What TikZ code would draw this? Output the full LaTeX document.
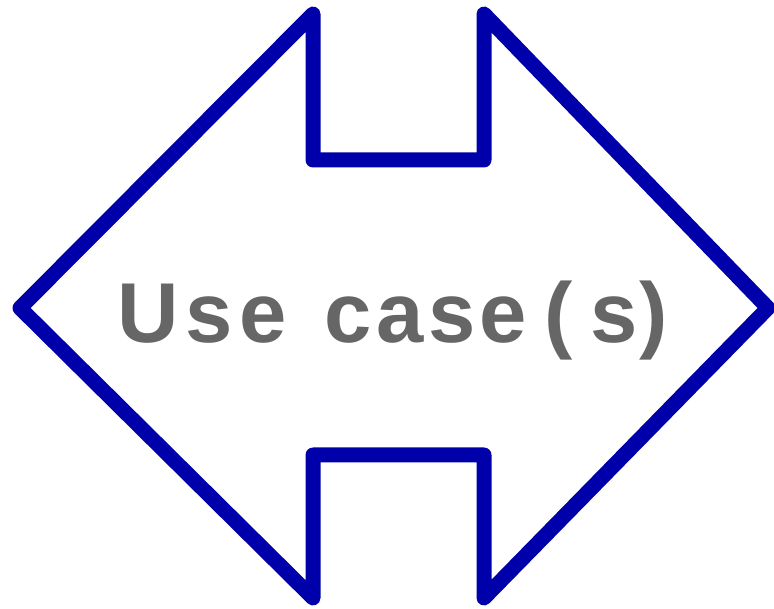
\documentclass[tikz,border=0pt]{standalone}
\usepackage{fontspec}
\setmainfont{Liberation Sans}
\definecolor{shapeblue}{RGB}{0,0,170}
\definecolor{textgray}{RGB}{102,102,102}
\begin{document}
\begin{tikzpicture}[x=1pt,y=-1pt,
  outline/.style={draw=shapeblue,line width=15pt,line join=round,line cap=round},
  labeltext/.style={text=textgray,font=\bfseries\fontsize{85}{100}\selectfont,inner sep=0pt,anchor=base west}]
\useasboundingbox (0,0) rectangle (774,609);
\coordinate (L) at (20,308);
\coordinate (TL) at (313,14);
\coordinate (TLb) at (313,160);
\coordinate (TRb) at (484,160);
\coordinate (TR) at (484,14);
\coordinate (R) at (768,308);
\coordinate (BR) at (484,598);
\coordinate (BRt) at (484,455);
\coordinate (BLt) at (313,455);
\coordinate (BL) at (313,598);
\draw[outline] (L) -- (TL) -- (TLb) -- (TRb) -- (TR) -- (R) -- (BR) -- (BRt) -- (BLt) -- (BL) -- cycle;
\node[labeltext] (lbl) at (117,343) {U\kern7pt s\kern7pt e\kern7pt{} \kern7pt c\kern4.5pt a\kern4.5pt s\kern4.5pt e\kern17pt (\kern18pt s\kern2pt )};
\end{tikzpicture}
\end{document}
